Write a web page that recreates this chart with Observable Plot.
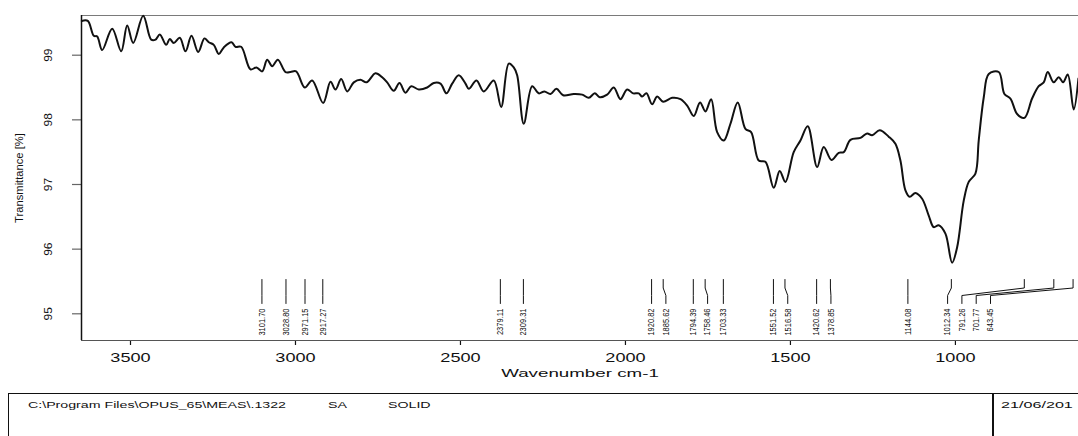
<!DOCTYPE html>
<html>
<head>
<meta charset="utf-8">
<script src="https://cdn.jsdelivr.net/npm/d3@7"></script>
<script src="https://cdn.jsdelivr.net/npm/@observablehq/plot@0.6"></script>
<style>
  html, body { margin: 0; padding: 0; background: white; overflow: hidden; width: 1078px; height: 436px; }
  #chart { position: absolute; left: 0; top: 0; }
  #footer { position: absolute; left: 8px; top: 393px; width: 1200px; height: 60px;
            border-left: 1.5px solid #111; border-top: 1.5px solid #111; box-sizing: border-box; }
  #footer .divider { position: absolute; left: 983px; top: 0; width: 2px; height: 100%; background: #111; }
  #footer span { position: absolute; font-family: "Liberation Sans", Arial, sans-serif; font-size: 8.5px;
                 line-height: 1; transform: scaleX(1.67); transform-origin: left center; color: #111; white-space: pre; }
</style>
</head>
<body>
<div id="chart"></div>
<div id="footer">
  <div class="divider"></div>
</div>
<script>
// ---------------- data ----------------
const wavenumber = [3647.6, 3629.4, 3611.2, 3600.9, 3585.8, 3555.5, 3528.2, 3510.0, 3491.8, 3461.5, 3437.3, 3424.2, 3411.2, 3391.8, 3380.9, 3368.8, 3350.6, 3333.3, 3315.2, 3294.9, 3275.8, 3262.7, 3247.6, 3232.4, 3217.3, 3193.9, 3181.8, 3164.6, 3136.4, 3118.2, 3100.9, 3085.8, 3070.6, 3053.6, 3030.3, 3015.2, 2998.0, 2971.8, 2949.4, 2916.1, 2893.9, 2878.8, 2861.5, 2843.3, 2823.3, 2803.0, 2784.8, 2757.6, 2737.3, 2722.1, 2702.1, 2684.8, 2666.7, 2649.4, 2626.4, 2601.0, 2580.9, 2560.6, 2542.4, 2525.2, 2505.2, 2484.8, 2474.8, 2451.5, 2429.4, 2399.1, 2376.7, 2353.6, 2338.5, 2328.2, 2308.2, 2282.8, 2262.8, 2245.5, 2227.3, 2209.1, 2188.8, 2156.7, 2131.2, 2111.2, 2093.0, 2077.9, 2055.5, 2035.5, 2015.2, 1994.9, 1976.7, 1959.7, 1949.4, 1936.4, 1919.1, 1904.0, 1885.8, 1858.5, 1833.3, 1813.0, 1793.0, 1773.9, 1757.6, 1740.3, 1722.1, 1702.1, 1681.8, 1659.7, 1636.4, 1619.2, 1596.1, 1575.8, 1550.7, 1532.5, 1515.2, 1490.1, 1469.7, 1447.6, 1419.1, 1399.1, 1375.8, 1353.7, 1338.5, 1318.2, 1287.9, 1267.6, 1252.5, 1229.5, 1202.2, 1181.9, 1166.7, 1151.5, 1138.5, 1121.2, 1100.9, 1080.9, 1065.8, 1050.6, 1030.3, 1010.0, 994.8, 974.8, 959.7, 939.4, 929.4, 914.1, 899.0, 868.7, 851.5, 833.3, 813.0, 790.9, 767.6, 747.6, 732.4, 720.3, 702.1, 687.0, 673.6, 659.6, 641.5, 627.2];
const transmittance = [99.53, 99.53, 99.30, 99.29, 99.08, 99.41, 99.06, 99.46, 99.19, 99.61, 99.24, 99.24, 99.32, 99.16, 99.25, 99.19, 99.27, 99.06, 99.30, 99.05, 99.26, 99.20, 99.16, 99.02, 99.12, 99.20, 99.13, 99.13, 98.78, 98.81, 98.75, 98.93, 98.83, 98.93, 98.74, 98.74, 98.75, 98.50, 98.61, 98.26, 98.59, 98.47, 98.63, 98.44, 98.58, 98.62, 98.58, 98.72, 98.66, 98.58, 98.45, 98.57, 98.42, 98.52, 98.47, 98.50, 98.57, 98.56, 98.41, 98.56, 98.69, 98.56, 98.48, 98.61, 98.44, 98.61, 98.20, 98.87, 98.81, 98.69, 97.94, 98.52, 98.41, 98.44, 98.40, 98.48, 98.38, 98.40, 98.39, 98.34, 98.41, 98.35, 98.39, 98.50, 98.32, 98.47, 98.41, 98.41, 98.36, 98.41, 98.24, 98.36, 98.28, 98.34, 98.32, 98.22, 98.06, 98.27, 98.13, 98.32, 97.81, 97.68, 97.94, 98.27, 97.86, 97.81, 97.37, 97.35, 96.95, 97.21, 97.04, 97.50, 97.68, 97.90, 97.27, 97.58, 97.38, 97.49, 97.50, 97.69, 97.72, 97.79, 97.76, 97.84, 97.74, 97.63, 97.37, 96.91, 96.81, 96.87, 96.78, 96.52, 96.34, 96.37, 96.24, 95.79, 96.03, 96.75, 97.04, 97.17, 97.68, 98.35, 98.71, 98.74, 98.40, 98.33, 98.09, 98.03, 98.33, 98.52, 98.58, 98.74, 98.58, 98.66, 98.58, 98.70, 98.16, 98.64];

const peaks = [3101.70, 3028.80, 2971.15, 2917.27, 2379.11, 2309.31, 1920.82, 1885.62, 1794.39, 1758.46, 1703.33, 1551.52, 1516.58, 1420.62, 1378.85, 1144.08, 1012.34, 791.26, 701.77, 643.45];

const xTicks = [3500, 3000, 2500, 2000, 1500, 1000];
const yTicks = [95, 96, 97, 98, 99];
const xTitle = "Wavenumber cm-1";
const yTitle = "Transmittance [%]";
const footerPath = "C:\\Program Files\\OPUS_65\\MEAS\\.1322";
const footerType = "SA";
const footerForm = "SOLID";
const footerDate = "21/06/201";

// ---------------- layout ----------------
const W = 1078, H = 390;
const mTop = 15, mLeft = 81, mRight = 0, mBottom = 50;
const xDomain = [3648.5, 627];
const yDomain = [94.587, 99.614];

const spectrum = wavenumber.map((w, i) => ({wn: w, t: transmittance[i]}));

// peak-label layout (pixel de-overlap, then back to wavenumbers)
const xs = d3.scaleLinear().domain(xDomain).range([mLeft, W - mRight]);
const ys = d3.scaleLinear().domain(yDomain).range([H - mBottom, mTop]);
const gap = 14.3, labelMaxX = W - 88;
const pos = peaks.map(p => xs(p));
for (let i = 1; i < pos.length; i++) if (pos[i] < pos[i - 1] + gap) pos[i] = pos[i - 1] + gap;
pos[pos.length - 1] = Math.min(pos[pos.length - 1], labelMaxX);
for (let i = pos.length - 2; i >= 0; i--) pos[i] = Math.min(pos[i], pos[i + 1] - gap);

const yLeadTop = ys.invert(279), yLeadB1 = ys.invert(287.5), yLeadB2 = ys.invert(295), yLeadBot = ys.invert(303);
const yLabelTop = ys.invert(308);
const leaders = [];
const peakLabels = [];
peaks.forEach((p, i) => {
  const lw = xs.invert(pos[i]);
  leaders.push({id: i, wn: p, t: yLeadTop}, {id: i, wn: p, t: yLeadB1}, {id: i, wn: lw, t: yLeadB2}, {id: i, wn: lw, t: yLeadBot});
  peakLabels.push({wn: lw, t: yLabelTop, label: p.toFixed(2)});
});

const font = "Liberation Sans, Arial, sans-serif";

const chart = Plot.plot({
  width: W, height: H,
  marginTop: mTop, marginLeft: mLeft, marginRight: mRight, marginBottom: mBottom,
  x: {domain: xDomain, label: null},
  y: {domain: yDomain, label: null},
  style: {background: "white", fontFamily: font, color: "#111", overflow: "visible"},
  marks: [
    Plot.ruleY([yDomain[1]], {stroke: "#7a7a7a", strokeWidth: 1.2}),
    Plot.axisY({ticks: yTicks, tickSize: 9, tickFormat: () => "", label: null, stroke: "#666", strokeWidth: 1.2}),
    Plot.axisX({ticks: xTicks, tickSize: 5, tickFormat: () => "", label: null, stroke: "#111", strokeWidth: 1.2}),
    Plot.ruleY([yDomain[0]], {stroke: "#555", strokeWidth: 1.2}),
    Plot.ruleX([xDomain[0]], {stroke: "#111", strokeWidth: 1.5}),
    Plot.line(spectrum, {x: "wn", y: "t", stroke: "#111", strokeWidth: 2, curve: "catmull-rom"}),
    Plot.line(leaders, {x: "wn", y: "t", z: "id", stroke: "#111", strokeWidth: 1}),
    Plot.text(peakLabels, {x: "wn", y: "t", text: "label", rotate: -90, textAnchor: "end", fontSize: 7.5, fill: "#111", ariaDescription: "peaklabels"}),
    Plot.text(yTicks, {y: d => d, text: d => String(d), frameAnchor: "left", textAnchor: "middle", lineAnchor: "middle", dx: -33, rotate: -90, fontSize: 12, fill: "#111", ariaDescription: "yticklabels"}),
    Plot.text([yTitle], {text: d => d, frameAnchor: "left", textAnchor: "middle", lineAnchor: "middle", dx: -62, rotate: -90, fontSize: 11.2, fill: "#111"}),
    Plot.text(xTicks, {x: d => d, text: d => String(d), frameAnchor: "bottom", lineAnchor: "middle", textAnchor: "middle", dy: 17, fontSize: 12.5, fill: "#111", ariaDescription: "xticklabels"}),
    Plot.text([xTitle], {text: d => d, frameAnchor: "bottom", lineAnchor: "middle", textAnchor: "middle", dy: 33, fontSize: 11.5, fill: "#111", ariaDescription: "xtitle"})
  ]
});
document.getElementById("chart").appendChild(chart);

// horizontal stretching of the instrument's typeface
function stretch(desc, sx) {
  d3.select(chart).selectAll(`g[aria-description="${desc}"] text`).each(function() {
    const t = this.getAttribute("transform") || "";
    if (t.includes("rotate")) this.setAttribute("transform", t.replace(" rotate(", ` scale(${sx},1) rotate(`));
    else this.setAttribute("transform", t + ` scale(${sx},1)`);
  });
}
stretch("xticklabels", 1.45);
stretch("xtitle", 1.63);
stretch("yticklabels", 0.85);
stretch("peaklabels", 1.15);

// footer
const footer = document.getElementById("footer");
[[footerPath, 19], [footerType, 319], [footerForm, 379], [footerDate, 992]].forEach(([txt, left]) => {
  const s = document.createElement("span");
  s.textContent = txt;
  s.style.left = left + "px";
  s.style.top = "7px";
  if (txt === footerDate) s.style.transform = "scaleX(1.9)";
  footer.appendChild(s);
});
</script>
</body>
</html>
